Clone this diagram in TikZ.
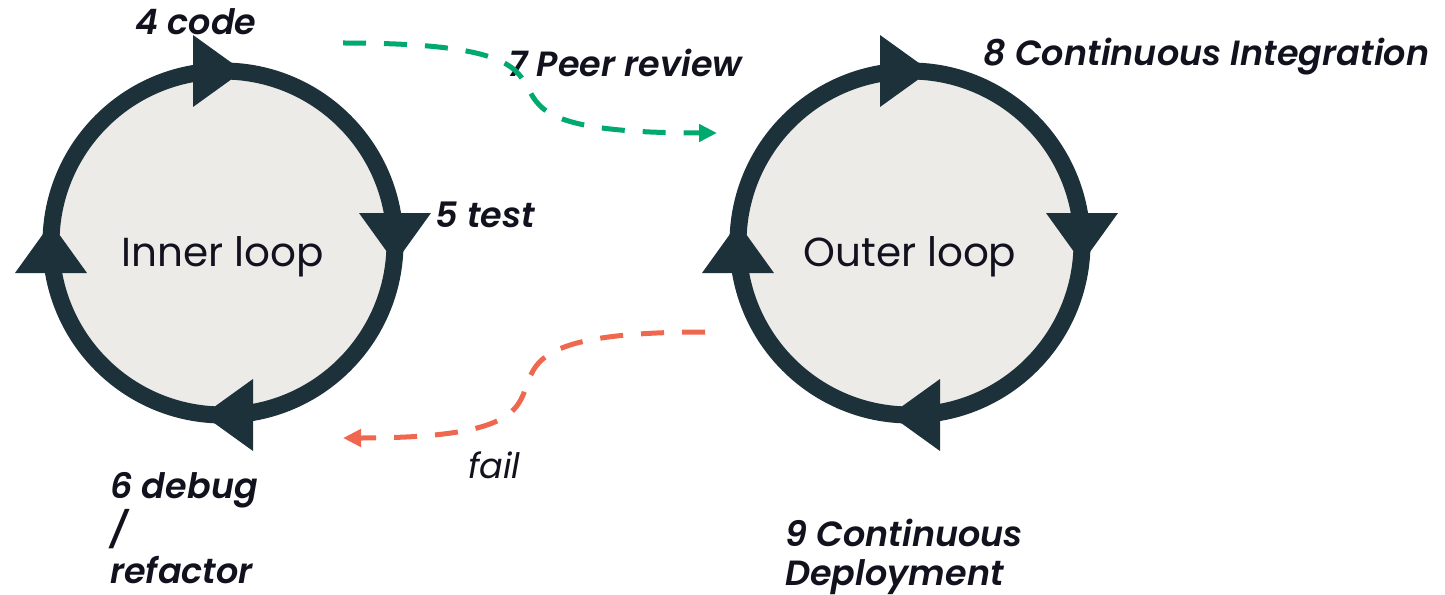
\documentclass[tikz,border=0pt]{standalone}
\usepackage{fontspec}
\setmainfont{Poppins}[BoldFont={Poppins SemiBold}, BoldItalicFont={Poppins SemiBold Italic}]
\usetikzlibrary{arrows.meta}
\definecolor{ring}{HTML}{1C313A}
\definecolor{loopfill}{HTML}{EDEBE8}
\definecolor{ink}{HTML}{12121F}
\definecolor{passgreen}{HTML}{00AA6E}
\definecolor{failred}{HTML}{F0674F}
\begin{document}
\begin{tikzpicture}[x=1bp,y=-1bp,
  loopring/.style={circle, draw=ring, fill=loopfill, line width=17bp,
    minimum size=344bp, inner sep=0pt, outer sep=0pt},
  looptext/.style={text=ink, inner sep=0pt, anchor=base,
    font=\fontsize{40.5bp}{48bp}\selectfont},
  steplabel/.style={text=ink, inner sep=0pt, anchor=base west, align=left,
    font=\fontsize{35bp}{40bp}\selectfont\bfseries\itshape},
  notelabel/.style={text=ink, inner sep=0pt, anchor=base west,
    font=\fontsize{35bp}{40bp}\selectfont\itshape},
  tri/.style={fill=ring},
  flow/.style={line width=5bp, dash pattern=on 23bp off 18bp,
    -{Triangle[length=18bp,width=17bp]}},
]
\useasboundingbox (0,0) rectangle (1445,595);

% the two loops
\node[loopring] (inner) at (223,243) {};
\node[loopring] (outer) at (910,243) {};
\node[looptext] (innertext) at (223,266) {Inner loop};
\node[looptext] (outertext) at (910,266) {Outer loop};

% clockwise direction marks on each ring
\foreach \c in {inner,outer}{
  \fill[tri] ([shift={(-30,-36)}]\c.north) -- ([shift={(-30,36)}]\c.north)
    -- ([shift={(20,0)}]\c.north) -- cycle;
  \fill[tri] ([shift={(-36,-30)}]\c.east) -- ([shift={(36,-30)}]\c.east)
    -- ([shift={(0,20)}]\c.east) -- cycle;
  \fill[tri] ([shift={(30,-36)}]\c.south) -- ([shift={(30,36)}]\c.south)
    -- ([shift={(-20,0)}]\c.south) -- cycle;
  \fill[tri] ([shift={(-36,30)}]\c.west) -- ([shift={(36,30)}]\c.west)
    -- ([shift={(0,-20)}]\c.west) -- cycle;
}

% step labels (multi-line labels are placed by their last baseline)
\node[steplabel] (code) at (135,35) {4 code};
\node[steplabel] (test) at (435,227) {5 test};
\node[steplabel, font=\fontsize{35bp}{40.5bp}\selectfont\bfseries\itshape]
  (debug) at (110,583) {6 debug\\/\\refactor};
\node[steplabel] (review) at (508,77) {7 Peer review};
\node[steplabel] (ci) at (983,66) {8 Continuous Integration};
\node[steplabel, font=\fontsize{35bp}{39bp}\selectfont\bfseries\itshape]
  (cd) at (785,585) {9 Continuous\\Deployment};
\node[notelabel] (fail) at (468,478) {fail};

% hand-offs between the loops
\coordinate (prfrom) at (343,43);
\coordinate (prto) at (717,133);
\coordinate (failfrom) at (705,332);
\coordinate (failto) at (343,438);
\draw[flow, passgreen] (prfrom) .. controls (660,43) and (400,133) .. (prto);
\draw[flow, failred] (failfrom) .. controls (390,332) and (660,438) .. (failto);
\end{tikzpicture}
\end{document}
